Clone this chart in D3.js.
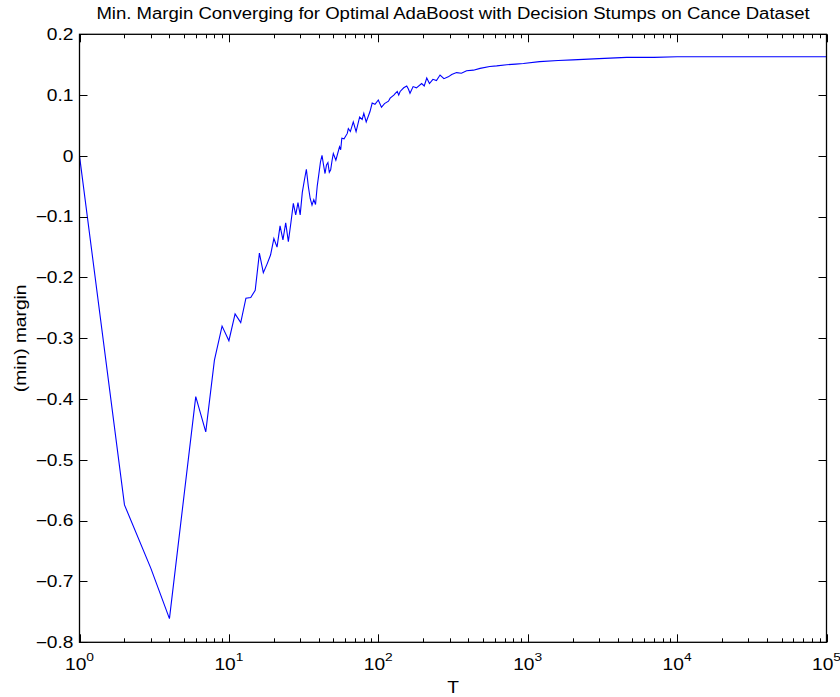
<!DOCTYPE html>
<html>
<head>
<meta charset="utf-8">
<script src="https://cdn.jsdelivr.net/npm/d3@7"></script>
<style>
  body { margin: 0; background: #fff; }
  svg { display: block; font-family: "Liberation Sans", Arial, Helvetica, sans-serif; }
</style>
</head>
<body>
<svg id="chart" width="840" height="697"></svg>
<script>
// ---- data ----
const titleText = "Min. Margin Converging for Optimal AdaBoost with Decision Stumps on Cance Dataset";
const xLabel = "T";
const yLabel = "(min) margin";
const xTickExponents = [0, 1, 2, 3, 4, 5];
const yTickValues = [-0.8, -0.7, -0.6, -0.5, -0.4, -0.3, -0.2, -0.1, 0, 0.1, 0.2];

const T = [1, 2, 3, 4, 5, 6, 7, 8, 9, 10,
  11, 12, 13, 14, 15, 16, 17, 18, 19, 20,
  21, 22, 23, 24, 25, 26, 27, 28, 29, 30,
  31, 32, 33, 34, 35, 36, 37, 38, 39, 40,
  41, 42, 43, 44, 45, 46, 47, 48, 49, 50,
  52, 55, 56, 57, 59, 62, 63, 65, 68, 71,
  75, 78, 80, 83, 88, 91, 95, 100, 105, 110,
  117, 120, 127, 130, 134, 137, 140, 148, 155, 159,
  163, 171, 180, 195, 203, 211, 220, 232, 245, 259,
  275, 294, 310, 334, 360, 390, 433, 480, 557, 620,
  725, 830, 935, 1200, 1600, 2000, 3000, 4600, 7000, 10000,
  20000, 50000, 100000];
const margin = [0.0, -0.574, -0.678, -0.761, -0.56, -0.396, -0.454, -0.336, -0.280, -0.304,
  -0.260, -0.274, -0.234, -0.233, -0.221, -0.160, -0.192, -0.178, -0.163, -0.136,
  -0.150, -0.115, -0.138, -0.110, -0.141, -0.110, -0.078, -0.097, -0.077, -0.097,
  -0.060, -0.040, -0.022, -0.050, -0.070, -0.081, -0.072, -0.080, -0.050, -0.030,
  -0.010, 0.001, -0.015, -0.029, -0.015, -0.011, -0.027, -0.023, -0.008, 0.004,
  -0.007, 0.015, 0.010, 0.029, 0.028, 0.037, 0.045, 0.040, 0.056, 0.040,
  0.064, 0.060, 0.070, 0.056, 0.073, 0.087, 0.085, 0.092, 0.080, 0.086,
  0.090, 0.095, 0.100, 0.103, 0.106, 0.100, 0.106, 0.112, 0.115, 0.110,
  0.103, 0.114, 0.112, 0.119, 0.115, 0.128, 0.119, 0.126, 0.124, 0.133,
  0.127, 0.130, 0.134, 0.137, 0.136, 0.140, 0.141, 0.144, 0.147, 0.148,
  0.150, 0.151, 0.152, 0.155, 0.157, 0.158, 0.160, 0.162, 0.162, 0.163,
  0.163, 0.163, 0.163];

// ---- layout ----
const plot = { left: 79.5, right: 826.5, top: 34.3, bottom: 642.3 };
const stretch = 1.2; // reference text is horizontally widened
const titleStretch = 1.16;
const svg = d3.select("#chart");

const x = d3.scaleLog().domain([1, 1e5]).range([plot.left, plot.right]);
const y = d3.scaleLinear().domain([-0.8, 0.2]).range([plot.bottom, plot.top]);

// data line
const pts = T.map((t, i) => [t, margin[i]]);
svg.append("path")
  .datum(pts)
  .attr("fill", "none")
  .attr("stroke", "#0000ff")
  .attr("stroke-width", 1.1)
  .attr("stroke-linejoin", "miter")
  .attr("d", d3.line().x(d => x(d[0])).y(d => y(d[1])));

// ticks (inward, all four sides)
const majorLen = 8, minorLen = 4;
const minorX = [];
for (let e = 0; e < 5; e++) for (let m = 2; m <= 9; m++) minorX.push(m * Math.pow(10, e));
const majorX = xTickExponents.map(e => Math.pow(10, e));

const tickG = svg.append("g").attr("stroke", "#000").attr("stroke-width", 1);
majorX.forEach(v => {
  const px = Math.round(x(v)) + 0.5;
  tickG.append("line").attr("x1", px).attr("x2", px).attr("y1", plot.bottom).attr("y2", plot.bottom - majorLen);
  tickG.append("line").attr("x1", px).attr("x2", px).attr("y1", plot.top).attr("y2", plot.top + majorLen);
});
minorX.forEach(v => {
  const px = Math.round(x(v)) + 0.5;
  tickG.append("line").attr("x1", px).attr("x2", px).attr("y1", plot.bottom).attr("y2", plot.bottom - minorLen);
  tickG.append("line").attr("x1", px).attr("x2", px).attr("y1", plot.top).attr("y2", plot.top + minorLen);
});
yTickValues.forEach(v => {
  const py = Math.round(y(v)) + 0.5;
  tickG.append("line").attr("x1", plot.left).attr("x2", plot.left + majorLen).attr("y1", py).attr("y2", py);
  tickG.append("line").attr("x1", plot.right).attr("x2", plot.right - majorLen).attr("y1", py).attr("y2", py);
});

// box
svg.append("rect")
  .attr("x", plot.left).attr("y", plot.top)
  .attr("width", plot.right - plot.left).attr("height", plot.bottom - plot.top)
  .attr("fill", "none").attr("stroke", "#000").attr("stroke-width", 1.3);

// y tick labels
const fmtY = v => {
  const s = Math.abs(v) < 1e-9 ? "0" : d3.format(".1f")(Math.abs(v));
  return v < -1e-9 ? "\u2212" + s : s;
};
svg.append("g").selectAll("g").data(yTickValues).join("g")
  .attr("transform", d => `translate(${plot.left - 6},${y(d)}) scale(${stretch},1)`)
  .append("text")
  .attr("dy", "0.35em")
  .attr("text-anchor", "end")
  .attr("font-size", 16)
  .text(fmtY);

// x tick labels 10^e
const xl = svg.append("g").selectAll("g").data(xTickExponents).join("g")
  .attr("transform", d => `translate(${x(Math.pow(10, d))},${plot.bottom + 28}) scale(${stretch},1)`)
  .append("text")
  .attr("text-anchor", "middle")
  .attr("font-size", 16);
xl.append("tspan").text("10");
xl.append("tspan").attr("dy", -9).attr("font-size", 11.5).text(d => d);

// title
svg.append("g")
  .attr("transform", `translate(${(plot.left + plot.right) / 2},19) scale(${titleStretch},1)`)
  .append("text")
  .attr("text-anchor", "middle")
  .attr("font-size", 16)
  .text(titleText);

// axis labels
svg.append("g")
  .attr("transform", `translate(${(plot.left + plot.right) / 2},693) scale(${stretch},1)`)
  .append("text")
  .attr("text-anchor", "middle")
  .attr("font-size", 16)
  .text(xLabel);

svg.append("g")
  .attr("transform", `translate(26,${(plot.top + plot.bottom) / 2}) rotate(-90) scale(${stretch},1)`)
  .append("text")
  .attr("text-anchor", "middle")
  .attr("font-size", 16)
  .text(yLabel);
</script>
</body>
</html>
